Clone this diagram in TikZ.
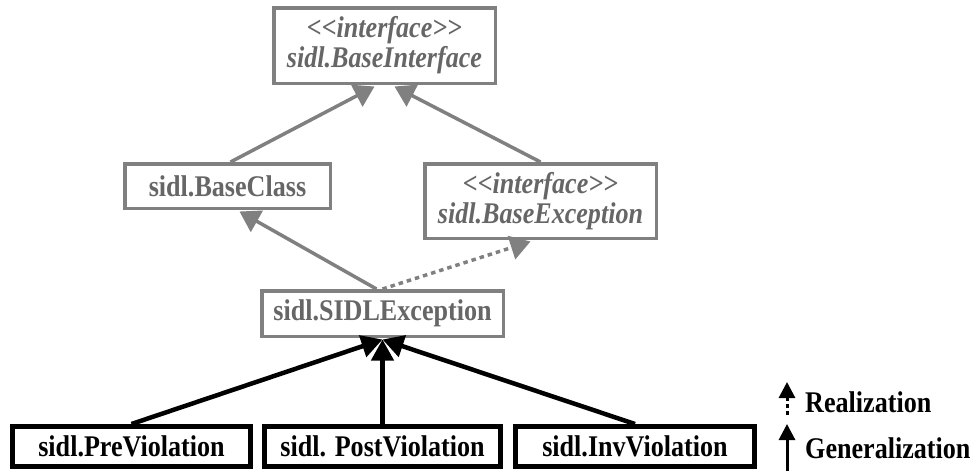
\documentclass[tikz,border=0pt]{standalone}
\usepackage{fontspec}
\setmainfont{Liberation Serif}
\newfontfamily\tf{Liberation Serif}[FakeStretch=0.87]
\usetikzlibrary{arrows.meta,calc}
\definecolor{bordergray}{HTML}{808080}
\definecolor{textgray}{HTML}{666666}
\tikzset{
  graybox/.style={draw=bordergray, line width=3.5pt, fill=white, inner sep=0pt,
    text=textgray, align=center, font=\tf\fontsize{30}{32}\selectfont\bfseries},
  blackbox/.style={draw=black, line width=5pt, fill=white, inner sep=0pt,
    minimum width=238pt, minimum height=40pt, text=black,
    font=\tf\fontsize{30}{32}\selectfont\bfseries},
  grayarrow/.style={draw=bordergray, line width=3.5pt,
    -{Triangle[width=24pt,length=20pt]}},
  grayreal/.style={grayarrow, dash pattern=on 4.5pt off 4pt},
  blackarrow/.style={draw=black, line width=4.5pt,
    -{Triangle[width=22pt,length=21pt]}},
  legendtext/.style={anchor=west, inner sep=0pt, font=\tf\fontsize{30}{32}\selectfont\bfseries}
}
\begin{document}
\begin{tikzpicture}[x=1pt,y=-1pt]
\useasboundingbox (0,0) rectangle (972,471);
% nodes
\node[graybox, minimum width=221.5pt, minimum height=75.5pt] (bi) at (384.5,45.5)
  {\textit{<<interface>>}\\[-2pt]\textit{sidl.BaseInterface}};
\node[graybox, minimum width=205.5pt, minimum height=44.5pt] (bc) at (227.5,186) {sidl.BaseClass};
\node[graybox, minimum width=231.5pt, minimum height=74.5pt] (be) at (540.5,201)
  {\textit{<<interface>>}\\[-2pt]\textit{sidl.BaseException}};
\node[graybox, minimum width=241.5pt, minimum height=45.5pt] (sidl) at (382.5,313.5) {sidl.SIDLException};
\node[blackbox] (pre) at (131.5,446.5) {sidl.PreViolation};
\node[blackbox, minimum width=236pt] (post) at (382.5,446.5) {sidl. PostViolation};
\node[blackbox, minimum width=239pt] (inv) at (635,446.5) {sidl.InvViolation};
% gray connectors
\draw[grayarrow] ($(bc.north)+(3,0)$) -- ($(bi.south)+(-10,1.5)$);
\draw[grayarrow] (be.north) -- ($(bi.south)+(10,1.5)$);
\draw[grayarrow] ($(sidl.north)+(-6,0)$) -- ($(bc.south)+(12,1.5)$);
\draw[grayreal] (sidl.north) -- ($(be.south)+(-10,1.5)$);
% black connectors
\draw[blackarrow] (pre.north) -- ($(sidl.south)+(0,1.5)$);
\draw[blackarrow] (post.north) -- ($(sidl.south)+(0,1.5)$);
\draw[blackarrow] (inv.north) -- ($(sidl.south)+(0,1.5)$);
% legend
\coordinate (r1) at (787,415);
\coordinate (r2) at (787,382);
\coordinate (g1) at (787,471);
\coordinate (g2) at (787,424);
\draw[draw=black, line width=3pt, dash pattern=on 4pt off 3pt, -{Triangle[width=16pt,length=16pt]}] (r1) -- (r2);
\draw[draw=black, line width=3pt, -{Triangle[width=16pt,length=16pt]}] (g1) -- (g2);
\node[legendtext] (rl) at (805,402) {Realization};
\node[legendtext] (gl) at (805,448) {Generalization};
\end{tikzpicture}
\end{document}
